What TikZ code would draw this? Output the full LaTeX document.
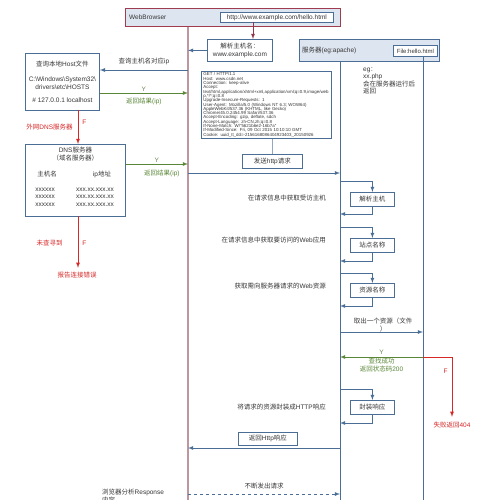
\documentclass[tikz,border=0pt]{standalone}
\usepackage{fontspec}
\setmainfont{Liberation Sans}
\newfontfamily\zhfont{Noto Sans CJK SC}
\newcommand{\zh}[1]{{\zhfont #1}}
\usepackage{xcolor}
\usetikzlibrary{positioning}
\definecolor{lineBlue}{RGB}{74,110,150}
\definecolor{fillBlue}{RGB}{221,229,240}
\definecolor{browserRed}{RGB}{160,60,80}
\definecolor{lifePink}{RGB}{190,150,160}
\definecolor{okGreen}{RGB}{90,135,55}
\definecolor{errRed}{RGB}{215,40,40}
\definecolor{textGray}{RGB}{55,55,55}
\tikzset{%
  txt/.style={inner sep=1pt, text=textGray, font=\fontsize{6.5}{7.5}\selectfont},
  okTxt/.style={txt, text=okGreen},% found, returned
  yTxt/.style={txt, text=okGreen!60!gray},
  errTxt/.style={txt, text=errRed},% not found
  %
  plainBox/.style={rectangle, draw=lineBlue, fill=white, line width=0.8pt, inner sep=0pt, text=textGray, font=\fontsize{6.5}{7.5}\selectfont},
  stepBox/.style={plainBox, minimum width=44, minimum height=14},% server self step
  headerBox/.style={plainBox, align=left, font=\fontsize{4.4}{4.3}\selectfont},
  % ------------
  % participants
  % ------------
  browserBox/.style={rectangle, draw=browserRed, fill=fillBlue, line width=1.2pt},
  serverBox/.style={rectangle, draw=lineBlue, fill=fillBlue, line width=1pt},
  browserLife/.style={draw=lifePink, line width=1.8pt},
  serverLife/.style={draw=lineBlue, line width=0.8pt},
  % --------
  % messages
  % --------
  msgArrow/.style={-latex, draw=lineBlue, line width=0.8pt},
  okArrow/.style={-latex, draw=okGreen, line width=0.8pt},
  errArrow/.style={-latex, draw=errRed, line width=0.8pt},
  urlArrow/.style={-latex, draw=browserRed!90!black, line width=0.8pt}}

\begin{document}
\begin{tikzpicture}[x=1pt,y=-1pt]
    \useasboundingbox[fill=white] (0,0) rectangle (500,500);

    \coordinate (browserEnd) at (188,500);
    \coordinate (serverEnd) at (340,500);
    \coordinate (fileEnd) at (423,500);

    % browser
    \node[browserBox, minimum width=215, minimum height=18, anchor=north west] (browser) at (125,8) {};
    \node[txt, anchor=west] (browserName) at (128,17) {WebBrowser};
    \node[plainBox, minimum width=113, minimum height=10, anchor=north west] (url) at (220,12) {http://www.example.com/hello.html};
    \draw[browserLife] (browser.south -| browserEnd) -- (browserEnd);

    \node[plainBox, minimum width=65, minimum height=22, anchor=north west, align=center] (resolve) at (207,39) {\zh{解析主机名：}\\www.example.com};
    \coordinate (urlDrop) at (253,22);
    \draw[urlArrow] (urlDrop) -- (urlDrop |- resolve.north);
    \draw[msgArrow] (resolve.west) -- (resolve.west -| browserEnd);

    % hosts file
    \node[plainBox, minimum width=74, minimum height=57, anchor=north west, align=center] (hosts) at (25,53) {\zh{查询本地}Host\zh{文件}\\[8pt]C:\textbackslash Windows\textbackslash System32\textbackslash\\drivers\textbackslash etc\textbackslash HOSTS\\[6pt]\# 127.0.0.1 localhost};
    \coordinate (askHost) at (188,70);
    \draw[msgArrow] (askHost) -- node[txt, above=4pt]{\zh{查询主机名对应}ip} (askHost -| hosts.east);
    \coordinate (hostBack) at (188,93);
    \draw[okArrow] (hostBack -| hosts.east) -- node[yTxt, above]{Y} node[okTxt, below=4pt]{\zh{返回结果}(ip)} (hostBack);

    % dns
    \node[plainBox, minimum width=100, minimum height=72, anchor=north west] (dns) at (25,144) {};
    \node[txt, align=center, below=2pt of dns.north] (dnsTitle) {DNS\zh{服务器}\\\zh{（域名服务器）}};
    \node[txt] (dnsHost) at (47,174) {\zh{主机名}};
    \node[txt] (dnsIp) at (102,174) {ip\zh{地址}};
    \node[txt, align=center] (dnsNames) at (45,197) {xxxxxx\\xxxxxx\\xxxxxx};
    \node[txt, align=center] (dnsAddrs) at (95,197) {xxx.xx.xxx.xx\\xxx.xx.xxx.xx\\xxx.xx.xxx.xx};

    \coordinate (hostMiss) at (78,110);
    \draw[errArrow] (hostMiss) -- node[errTxt, pos=0.35, right=3pt]{F} node[errTxt, pos=0.5, left=4pt]{\zh{外网}DNS\zh{服务器}} (hostMiss |- dns.north);

    \coordinate (dnsBack) at (188,164);
    \draw[okArrow] (dnsBack -| dns.east) -- node[yTxt, above]{Y} node[okTxt, below=5pt, xshift=5pt]{\zh{返回结果}(ip)} (dnsBack);

    \coordinate (dnsMiss) at (78,216);
    \node[errTxt] (reportErr) at (77,275) {\zh{报告连接错误}};
    \draw[errArrow, shorten >=3pt] (dnsMiss) -- node[errTxt, right=3pt]{F} node[errTxt, left=14pt]{\zh{未查寻到}} (dnsMiss |- reportErr.north);

    % request
    \node[headerBox, minimum width=130, minimum height=67, text width=126, anchor=north west] (header) at (201,71) {GET / HTTP/1.1\\Host: www.csdn.net\\Connection: keep-alive\\Accept:\\text/html,application/xhtml+xml,application/xml;q=0.9,image/web\\p,*/*;q=0.8\\Upgrade-Insecure-Requests: 1\\User-Agent: Mozilla/5.0 (Windows NT 6.3; WOW64)\\AppleWebKit/537.36 (KHTML, like Gecko)\\Chrome/45.0.2454.99 Safari/537.36\\Accept-Encoding: gzip, deflate, sdch\\Accept-Language: zh-CN,zh;q=0.8\\If-None-Match: W/"5621b6e2-16b7a"\\If-Modified-Since: Fri, 09 Oct 2015 10:10:10 GMT\\Cookie: uuid\_tt\_dd=-2156168086404923403\_20150926};
    \node[plainBox, minimum width=60, minimum height=14, anchor=north west] (send) at (242,154) {\zh{发送}http\zh{请求}};
    \draw[draw=lineBlue!60, line width=0.6pt] (send.north) -- (send.north |- header.south);
    \coordinate (sendReq) at (188,173);
    \draw[msgArrow] (sendReq) -- (sendReq -| serverEnd);

    % server
    \node[serverBox, minimum width=140, minimum height=22, anchor=north west] (server) at (299,39) {};
    \node[txt, anchor=west] (serverName) at (301,50) {\zh{服务器}(eg:apache)};
    \node[plainBox, minimum width=44, minimum height=11, anchor=north west, font=\fontsize{6}{7}\selectfont] (file) at (393,45) {File:hello.html};
    \draw[serverLife] (server.south -| serverEnd) -- (serverEnd);
    \draw[serverLife] (file.south -| fileEnd) -- (fileEnd);
    \node[txt, anchor=north west, align=left] (phpNote) at (362,66) {eg\zh{：}\\xx.php\\\zh{会在服务器运行后}\\\zh{返回}};

    \coordinate (hostIn) at (340,181);
    \coordinate (hostOut) at (340,214);
    \node[stepBox, anchor=north west] (parseHost) at (350,192) {\zh{解析主机}};
    \draw[msgArrow] (hostIn) -| (parseHost.north);
    \draw[msgArrow] (parseHost.south) |- (hostOut);
    \node[txt, anchor=east] (parseNote) at (327,198) {\zh{在请求信息中获取受访主机}};

    \coordinate (siteIn) at (340,227);
    \coordinate (siteOut) at (340,261);
    \node[stepBox, anchor=north west] (siteName) at (350,238) {\zh{站点名称}};
    \draw[msgArrow] (siteIn) -| (siteName.north);
    \draw[msgArrow] (siteName.south) |- (siteOut);
    \node[txt, anchor=east] (siteNote) at (327,240) {\zh{在请求信息中获取要访问的}Web\zh{应用}};

    \coordinate (resIn) at (340,273);
    \coordinate (resOut) at (340,306);
    \node[stepBox, anchor=north west] (resName) at (350,283) {\zh{资源名称}};
    \draw[msgArrow] (resIn) -| (resName.north);
    \draw[msgArrow] (resName.south) |- (resOut);
    \node[txt, anchor=east] (resNote) at (327,286) {\zh{获取需向服务器请求的}Web\zh{资源}};

    \coordinate (fetch) at (340,332);
    \draw[msgArrow] (fetch) -- (fetch -| fileEnd);
    \node[txt, align=center] (fetchNote) at (383,325) {\zh{取出一个资源（文件}\\\zh{）}};

    \coordinate (found) at (423,357);
    \draw[okArrow] (found) -- node[yTxt, above=1pt]{Y} node[okTxt, below, align=center]{\zh{查找成功}\\\zh{返回状态码}200} (found -| serverEnd);
    \node[errTxt] (notFound) at (452,425) {\zh{失败返回}404};
    \draw[errArrow, shorten >=4pt] (found) -| node[errTxt, pos=0.61, left=3pt]{F} (notFound.north);

    \coordinate (packIn) at (340,389);
    \coordinate (packOut) at (340,423);
    \node[stepBox, anchor=north west] (pack) at (350,400) {\zh{封装响应}};
    \draw[msgArrow] (packIn) -| (pack.north);
    \draw[msgArrow] (pack.south) |- (packOut);
    \node[txt, anchor=east] (packNote) at (327,407) {\zh{将请求的资源封装成}HTTP\zh{响应}};

    % response
    \node[plainBox, minimum width=59, minimum height=13, anchor=north west] (reply) at (238,432) {\zh{返回}Http\zh{响应}};
    \coordinate (replyMsg) at (340,448);
    \draw[msgArrow] (replyMsg) -- (replyMsg -| browserEnd);

    \coordinate (again) at (188,494);
    \draw[msgArrow, dashed] (again) -- node[txt, above=4pt]{\zh{不断发出请求}} (again -| serverEnd);
    \node[txt, anchor=north west, align=left] (analyse) at (101,488) {\zh{浏览器分析}Response\\\zh{内容}};
\end{tikzpicture}
\end{document}
